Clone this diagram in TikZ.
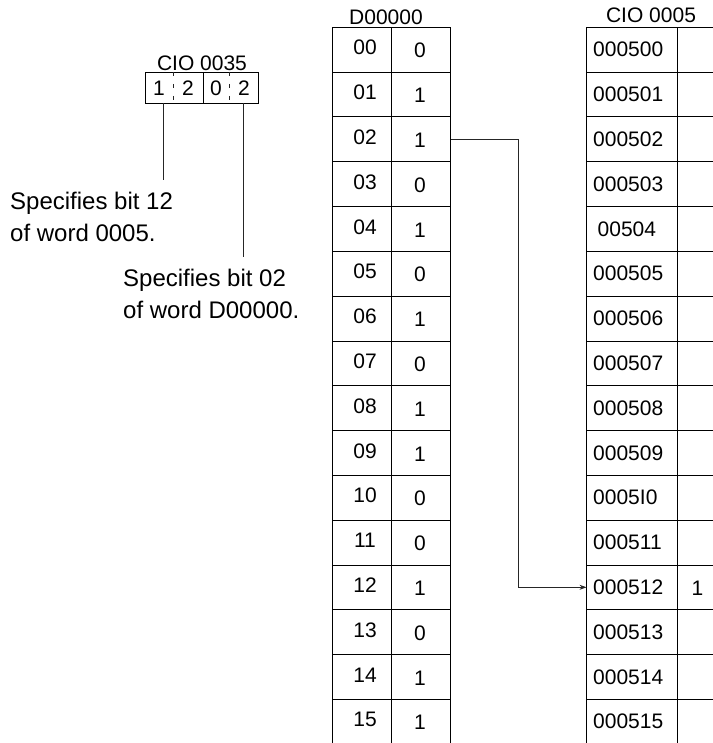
\documentclass[tikz,border=0pt]{standalone}
\usepackage{fontspec}
\setmainfont{Liberation Sans}
\usetikzlibrary{arrows.meta}
\begin{document}
\begin{tikzpicture}[x=1pt,y=-1pt,
  cell/.style={draw=black, line width=0.8pt, minimum height=44.8pt, inner sep=0pt, outer sep=0pt},
  txt/.style={inner sep=0pt, font=\fontsize{21}{25}\selectfont},
  desc/.style={inner sep=0pt, align=left, font=\fontsize{24}{32}\selectfont},
  ln/.style={line width=0.8pt, draw=black!85}]
\useasboundingbox (0,0) rectangle (712,743);
% D00000 table
\node[txt] (dtitle) at (386,17) {D00000};
\foreach \l/\v [count=\n from 0] in {00/0,01/1,02/1,03/0,04/1,05/0,06/1,07/0,08/1,09/1,10/0,11/0,12/1,13/0,14/1,15/1} {
  \node[cell, minimum width=59pt] (dl\n) at (362, {49.7+44.8*\n}) {};
  \node[cell, minimum width=59pt] (dv\n) at (421, {49.7+44.8*\n}) {};
  \node[txt] (dlt\n) at ([xshift=3pt,yshift=2pt]dl\n.center) {\l};
  \node[txt] (dvt\n) at ([xshift=-1pt,yshift=-1pt]dv\n.center) {\v};
}
% CIO 0005 table
\node[txt] (ctitle) at (651,15) {CIO 0005};
\foreach \l/\s [count=\n from 0] in {000500/6.5,000501/6.5,000502/6.5,000503/6.5,00504/11,000505/6.5,000506/6.5,000507/6.5,000508/6.5,000509/6.5,0005I0/6.5,000511/6.5,000512/6.5,000513/6.5,000514/6.5,000515/6.5} {
  \node[cell, minimum width=90.5pt] (cl\n) at (631.75, {49.7+44.8*\n}) {};
  \node[cell, minimum width=63pt] (cv\n) at (708.5, {49.7+44.8*\n}) {};
  \node[txt, anchor=west] (clt\n) at ([xshift=\s pt]cl\n.west) {\l};
}
\node[txt] (val) at ([xshift=-11pt,yshift=-1pt]cv12.center) {1};
% connector
\coordinate (turn) at (518,0);
\draw[ln, -{Stealth[length=7pt,width=5pt]}] (dv2.east) -- (dv2.east -| turn) |- (cl12.west);
% CIO 0035 box
\node[txt] (btitle) at (202,63) {CIO 0035};
\node[draw=black, line width=0.8pt, minimum width=58pt, minimum height=31pt, inner sep=0pt, outer sep=0pt] (bl) at (174,87.5) {};
\node[draw=black, line width=0.8pt, minimum width=55pt, minimum height=31pt, inner sep=0pt, outer sep=0pt] (br) at (230.5,87.5) {};
\draw[ln, dash pattern=on 4pt off 8pt] (bl.north) ++(-1,0) -- ([xshift=-1pt]bl.south);
\draw[ln, dash pattern=on 4pt off 8pt] (br.north) ++(-1.5,0) -- ([xshift=-1.5pt]br.south);
\node[txt] (b1) at (159,88) {1};
\node[txt] (b2) at (188,88) {2};
\node[txt] (b3) at (216,88) {0};
\node[txt] (b4) at (244,88) {2};
\coordinate (e1) at (163,180);
\coordinate (e2) at (243,257);
\draw[ln] (e1 |- bl.south) -- (e1);
\draw[ln] (e2 |- br.south) -- (e2);
% descriptions
\node[desc, anchor=west] (t1) at (10,217) {Specifies bit 12\\of word 0005.};
\node[desc, anchor=west] (t2) at (123,294) {Specifies bit 02\\of word D00000.};
\end{tikzpicture}
\end{document}
